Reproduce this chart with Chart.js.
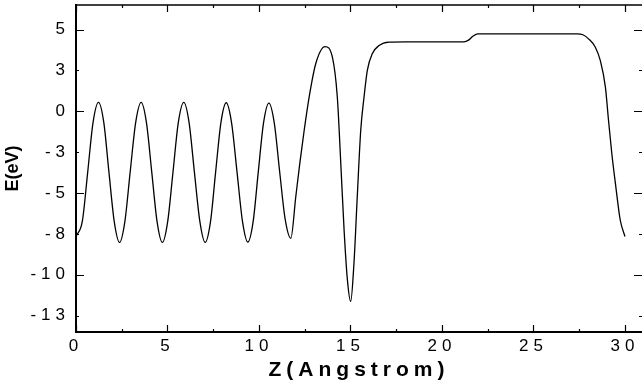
<!DOCTYPE html>
<html>
<head>
<meta charset="utf-8">
<script src="https://cdn.jsdelivr.net/npm/chart.js@4"></script>
<style>
  html, body { margin: 0; padding: 0; background: #fff; }
  #wrap { width: 642px; height: 390px; }
</style>
</head>
<body>
<div id="wrap"><canvas id="myChart" width="642" height="390"></canvas></div>
<script>
// Z position (Angstrom) and potential energy (eV)
const zAngstrom = [
  0, 0.35, 0.64, 0.93, 1.23, 1.52, 1.80, 2.09, 2.38, 2.67, 2.96, 3.26, 3.56,
  3.85, 4.14, 4.43, 4.72, 5.01, 5.30, 5.59, 5.89, 6.18, 6.47, 6.77, 7.06,
  7.35, 7.63, 7.92, 8.21, 8.50, 8.80, 9.10, 9.39, 9.68, 9.96, 10.25, 10.54,
  10.84, 11.13, 11.43, 11.74, 12.01, 12.23, 12.47, 12.74, 13.10, 13.61,
  14.01, 14.28, 14.47, 14.65, 14.83, 15.01, 15.19, 15.37, 15.56, 15.74,
  15.92, 16.19, 16.56, 17.10, 18.0, 21.2, 21.45, 21.7, 21.95, 23.0, 27.4,
  27.7, 28.01, 28.38, 28.65, 28.93, 29.10, 29.28, 29.50, 29.74, 30.0
];
const energyEV = [
  -7.66, -6.7, -3.72, -0.69, 0.55, -0.69, -3.72, -6.75, -8.02, -6.75, -3.72, -0.69, 0.55,
  -0.69, -3.72, -6.75, -8.02, -6.75, -3.72, -0.69, 0.55, -0.69, -3.72, -6.75, -8.02,
  -6.75, -3.72, -0.69, 0.52, -0.7, -3.72, -6.75, -8.0, -6.75, -3.72, -0.7, 0.5,
  -0.75, -3.7, -6.6, -7.77, -5.23, -3.19, -1.16, 0.87, 2.91, 3.96,
  3.31, 0.87, -3.19, -7.26, -10.3, -11.63, -9.29, -5.23, -1.16, 0.87,
  2.5, 3.52, 4.02, 4.23, 4.25, 4.25, 4.35, 4.6, 4.74, 4.74, 4.74,
  4.68, 4.43, 3.92, 3.11, 1.48, -0.55, -2.58, -4.62, -6.65, -7.66
];

const xTickValues = [0, 2.5, 5, 7.5, 10, 12.5, 15, 17.5, 20, 22.5, 25, 27.5, 30];
const xLabelValues = [0, 5, 10, 15, 20, 25, 30];
const xTickLabels = ['0', '5', '10', '15', '20', '25', '30'];
const yTickValues = [-12.5, -10, -7.5, -5, -2.5, 0, 2.5, 5];
const yTickLabels = ['-13', '-10', '-8', '-5', '-3', '0', '3', '5'];

const points = zAngstrom.map((z, i) => ({x: z, y: energyEV[i]}));

// letter spaced tick labels / x title like the original plot
const spacing = {
  id: 'spacing',
  beforeDraw(chart) { chart.ctx.letterSpacing = '5px'; },
  afterDatasetsDraw(chart) { chart.ctx.letterSpacing = '0px'; }
};

// top border + inward tick marks on all four sides
const frameTicks = {
  id: 'frameTicks',
  afterDraw(chart) {
    const ctx = chart.ctx;
    const a = chart.chartArea;
    const xs = chart.scales.x, ys = chart.scales.y;
    ctx.save();
    ctx.strokeStyle = '#000';
    ctx.lineWidth = 1.5;
    ctx.beginPath();
    ctx.moveTo(a.left, a.top);
    ctx.lineTo(a.right, a.top);
    ctx.stroke();
    ctx.lineWidth = 1.2;
    ctx.beginPath();
    xs.ticks.forEach(t => {
      const px = Math.round(xs.getPixelForValue(t.value)) + 0.5;
      const len = t.value % 5 === 0 ? 7 : 3;
      ctx.moveTo(px, a.bottom);
      ctx.lineTo(px, a.bottom - len);
      ctx.moveTo(px, a.top);
      ctx.lineTo(px, a.top + len);
    });
    ys.ticks.forEach(t => {
      const py = Math.round(ys.getPixelForValue(t.value)) + 0.5;
      const len = t.value % 5 === 0 ? 8 : 3;
      ctx.moveTo(a.left, py);
      ctx.lineTo(a.left + len, py);
      ctx.moveTo(a.right, py);
      ctx.lineTo(a.right - len, py);
    });
    ctx.stroke();
    ctx.restore();
  }
};

const ctx = document.getElementById('myChart').getContext('2d');
new Chart(ctx, {
  type: 'line',
  data: {
    datasets: [{
      data: points,
      borderColor: '#000',
      borderWidth: 1.3,
      pointRadius: 0,
      fill: false,
      cubicInterpolationMode: 'monotone'
    }]
  },
  options: {
    responsive: false,
    animation: false,
    events: [],
    layout: {padding: {top: 5, left: 0, right: 0, bottom: 0}},
    plugins: {legend: {display: false}, tooltip: {enabled: false}},
    scales: {
      x: {
        type: 'linear',
        min: 0,
        max: 30.93,
        afterBuildTicks: s => { s.ticks = xTickValues.map(v => ({value: v})); },
        afterFit: s => { s.height = 58; s.paddingLeft = 0; s.paddingRight = 0; },
        grid: {display: false, drawTicks: false, z: 0},
        border: {display: true, color: '#000', width: 2, z: 0},
        ticks: {
          color: '#000',
          padding: 4,
          maxRotation: 0,
          autoSkip: false,
          font: {family: 'Liberation Sans, Arial, sans-serif', size: 17},
          callback: v => {
            const i = xLabelValues.indexOf(v);
            return i >= 0 ? xTickLabels[i] : '';
          }
        },
        title: {
          display: true,
          text: 'Z(Angstrom)',
          color: '#000',
          padding: {top: 0, bottom: 7},
          font: {family: 'Liberation Sans, Arial, sans-serif', size: 21, weight: 'bold'}
        }
      },
      y: {
        min: -13.5,
        max: 6.5,
        afterBuildTicks: s => { s.ticks = yTickValues.map(v => ({value: v})); },
        afterFit: s => { s.width = 76; s.paddingTop = 0; s.paddingBottom = 0; },
        grid: {display: false, drawTicks: false, z: 1},
        border: {display: true, color: '#000', width: 2, z: 1},
        ticks: {
          color: '#000',
          padding: 6,
          autoSkip: false,
          font: {family: 'Liberation Sans, Arial, sans-serif', size: 17},
          callback: v => yTickLabels[yTickValues.indexOf(v)]
        },
        title: {
          display: true,
          text: 'E(eV)',
          color: '#000',
          padding: {top: 2, bottom: 0},
          font: {family: 'Liberation Sans, Arial, sans-serif', size: 18, weight: 'bold'}
        }
      }
    }
  },
  plugins: [spacing, frameTicks]
});
</script>
</body>
</html>
